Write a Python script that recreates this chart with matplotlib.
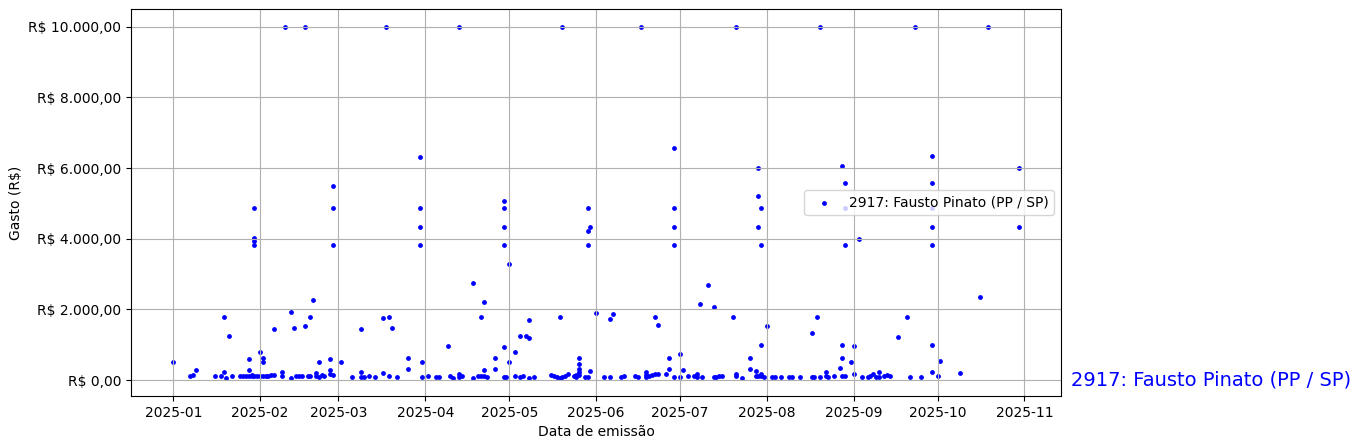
import matplotlib
matplotlib.use("Agg")
import matplotlib.pyplot as plt
import matplotlib.dates as mdates
from matplotlib.ticker import FuncFormatter
import pandas as pd

series_label = "2917: Fausto Pinato (PP / SP)"

datas = [
    "2025-01-01", "2025-01-07", "2025-01-08", "2025-01-09", "2025-01-16", "2025-01-18",
    "2025-01-19", "2025-01-19", "2025-01-20", "2025-01-21", "2025-01-22", "2025-01-25",
    "2025-01-26", "2025-01-27", "2025-01-28", "2025-01-28", "2025-01-28", "2025-01-29",
    "2025-01-29", "2025-01-30", "2025-01-30", "2025-01-30", "2025-01-30", "2025-01-30",
    "2025-01-31",
    "2025-02-01", "2025-02-01", "2025-02-02", "2025-02-02", "2025-02-02", "2025-02-03",
    "2025-02-04", "2025-02-05", "2025-02-06", "2025-02-06", "2025-02-10", "2025-02-09",
    "2025-02-09", "2025-02-12", "2025-02-12", "2025-02-13", "2025-02-14", "2025-02-15",
    "2025-02-17", "2025-02-16", "2025-02-17", "2025-02-18", "2025-02-19", "2025-02-19",
    "2025-02-20", "2025-02-21", "2025-02-21", "2025-02-22", "2025-02-22", "2025-02-23",
    "2025-02-24", "2025-02-26", "2025-02-26", "2025-02-26", "2025-02-27", "2025-02-27",
    "2025-02-27", "2025-02-27",
    "2025-03-02", "2025-03-06", "2025-03-09", "2025-03-09", "2025-03-09", "2025-03-10",
    "2025-03-12", "2025-03-14", "2025-03-17", "2025-03-17", "2025-03-18", "2025-03-19",
    "2025-03-19", "2025-03-20", "2025-03-22", "2025-03-26", "2025-03-26", "2025-03-30",
    "2025-03-30", "2025-03-30", "2025-03-30", "2025-03-31", "2025-03-31",
    "2025-04-02", "2025-04-05", "2025-04-06", "2025-04-09", "2025-04-10", "2025-04-11",
    "2025-04-13", "2025-04-13", "2025-04-13", "2025-04-14", "2025-04-18", "2025-04-18",
    "2025-04-20", "2025-04-21", "2025-04-21", "2025-04-22", "2025-04-22", "2025-04-22",
    "2025-04-23", "2025-04-26", "2025-04-26", "2025-04-29", "2025-04-29", "2025-04-29",
    "2025-04-29", "2025-04-29", "2025-04-29", "2025-04-30",
    "2025-05-01", "2025-05-01", "2025-05-03", "2025-05-03", "2025-05-05", "2025-05-05",
    "2025-05-06", "2025-05-07", "2025-05-08", "2025-05-08", "2025-05-08", "2025-05-10",
    "2025-05-16", "2025-05-17", "2025-05-18", "2025-05-19", "2025-05-19", "2025-05-20",
    "2025-05-20", "2025-05-21", "2025-05-22", "2025-05-24", "2025-05-25", "2025-05-25",
    "2025-05-26", "2025-05-26", "2025-05-26", "2025-05-26", "2025-05-26", "2025-05-28",
    "2025-05-29", "2025-05-29", "2025-05-29", "2025-05-29", "2025-05-30", "2025-05-30",
    "2025-06-01", "2025-06-04", "2025-06-06", "2025-06-06", "2025-06-07", "2025-06-10",
    "2025-06-11", "2025-06-15", "2025-06-16", "2025-06-17", "2025-06-19", "2025-06-19",
    "2025-06-19", "2025-06-20", "2025-06-21", "2025-06-22", "2025-06-22", "2025-06-23",
    "2025-06-23", "2025-06-26", "2025-06-27", "2025-06-27", "2025-06-29", "2025-06-29",
    "2025-06-29", "2025-06-29", "2025-06-29",
    "2025-07-01", "2025-07-01", "2025-07-02", "2025-07-04", "2025-07-06", "2025-07-07",
    "2025-07-07", "2025-07-08", "2025-07-09", "2025-07-11", "2025-07-13", "2025-07-13",
    "2025-07-14", "2025-07-15", "2025-07-16", "2025-07-20", "2025-07-21", "2025-07-21",
    "2025-07-21", "2025-07-23", "2025-07-26", "2025-07-26", "2025-07-28", "2025-07-28",
    "2025-07-29", "2025-07-29", "2025-07-29", "2025-07-29", "2025-07-30", "2025-07-30",
    "2025-07-30", "2025-07-30", "2025-07-30", "2025-07-31",
    "2025-08-01", "2025-08-03", "2025-08-04", "2025-08-06", "2025-08-09", "2025-08-10",
    "2025-08-13", "2025-08-17", "2025-08-17", "2025-08-18", "2025-08-19", "2025-08-20",
    "2025-08-20", "2025-08-22", "2025-08-22", "2025-08-23", "2025-08-25", "2025-08-27",
    "2025-08-28", "2025-08-28", "2025-08-28", "2025-08-28", "2025-08-29", "2025-08-29",
    "2025-08-29", "2025-08-29", "2025-08-31",
    "2025-09-01", "2025-09-01", "2025-09-03", "2025-09-04", "2025-09-06", "2025-09-07",
    "2025-09-08", "2025-09-09", "2025-09-10", "2025-09-10", "2025-09-12", "2025-09-13",
    "2025-09-14", "2025-09-17", "2025-09-20", "2025-09-21", "2025-09-23", "2025-09-25",
    "2025-09-29", "2025-09-29", "2025-09-29", "2025-09-29", "2025-09-29", "2025-09-29",
    "2025-09-29",
    "2025-10-01", "2025-10-02", "2025-10-09", "2025-10-16", "2025-10-19", "2025-10-30",
    "2025-10-30",
]

valores = [
    500, 130, 160, 300, 130, 130,
    230, 1790, 70, 1240, 130, 130,
    130, 130, 130, 590, 300, 130,
    150, 130, 4880, 4010, 3930, 3830,
    130,
    790, 130, 620, 500, 120, 130,
    130, 150, 1440, 140, 10000, 220,
    130, 1920, 50, 1470, 130, 130,
    10000, 110, 1520, 130, 130, 1790,
    2260, 200, 130, 510, 100, 160,
    130, 590, 300, 180, 5500, 4880,
    3830, 160,
    510, 100, 220, 100, 1440, 100,
    130, 100, 1750, 200, 10000, 1790,
    130, 1470, 100, 620, 330, 6300,
    4880, 4340, 3830, 510, 100,
    130, 100, 100, 960, 130, 50,
    10000, 180, 100, 130, 2750, 50,
    130, 1790, 130, 2210, 300, 110,
    100, 620, 330, 5080, 4880, 4340,
    3830, 930, 100, 100,
    3290, 510, 790, 130, 100, 1240,
    130, 1240, 1180, 1700, 70, 100,
    140, 130, 100, 70, 1790, 10000,
    100, 130, 180, 130, 160, 100,
    160, 620, 470, 330, 220, 100,
    100, 4880, 4220, 3830, 4340, 250,
    1890, 100, 100, 1720, 1870, 100,
    130, 130, 100, 10000, 230, 160,
    80, 130, 160, 180, 1790, 180,
    1550, 180, 620, 330, 6580, 4880,
    4340, 3830, 100,
    740, 100, 280, 130, 130, 100,
    180, 2150, 100, 2690, 2070, 100,
    100, 130, 130, 1790, 10000, 180,
    130, 50, 620, 330, 250, 130,
    6000, 5220, 4340, 130, 4880, 3830,
    990, 180, 130, 100,
    1520, 100, 100, 100, 100, 100,
    100, 100, 1330, 80, 1790, 10000,
    100, 220, 130, 100, 130, 340,
    6070, 990, 620, 130, 5590, 4880,
    3830, 130, 510,
    180, 960, 4000, 100, 100, 130,
    180, 100, 220, 100, 130, 160,
    130, 1210, 1790, 100, 10000, 80,
    6350, 5590, 4880, 4340, 3830, 990,
    220,
    130, 530, 190, 2350, 10000, 6000,
    4340,
]

x = pd.to_datetime(datas)

fig = plt.figure(figsize=(13.6, 4.48), dpi=100)
ax = fig.add_axes([131 / 1360, 1 - 396 / 448, 930 / 1360, 387 / 448])

ax.scatter(x, valores, s=6, color="blue", label=series_label)
ax.grid(True)

ax.xaxis.set_major_locator(mdates.MonthLocator())
ax.xaxis.set_major_formatter(mdates.DateFormatter("%Y-%m"))


def brl(v, pos):
    s = f"{v:,.2f}"
    s = s.replace(",", "X").replace(".", ",").replace("X", ".")
    return f"R$ {s}"


ax.yaxis.set_major_formatter(FuncFormatter(brl))
ax.set_xlabel("Data de emissão")
ax.set_ylabel("Gasto (R$)")
ax.legend(loc="center right")

ax.text(1.0108, 0, series_label, transform=ax.get_yaxis_transform(),
        color="blue", fontsize=14, va="center", ha="left")

fig.savefig("out.png", dpi=100)
